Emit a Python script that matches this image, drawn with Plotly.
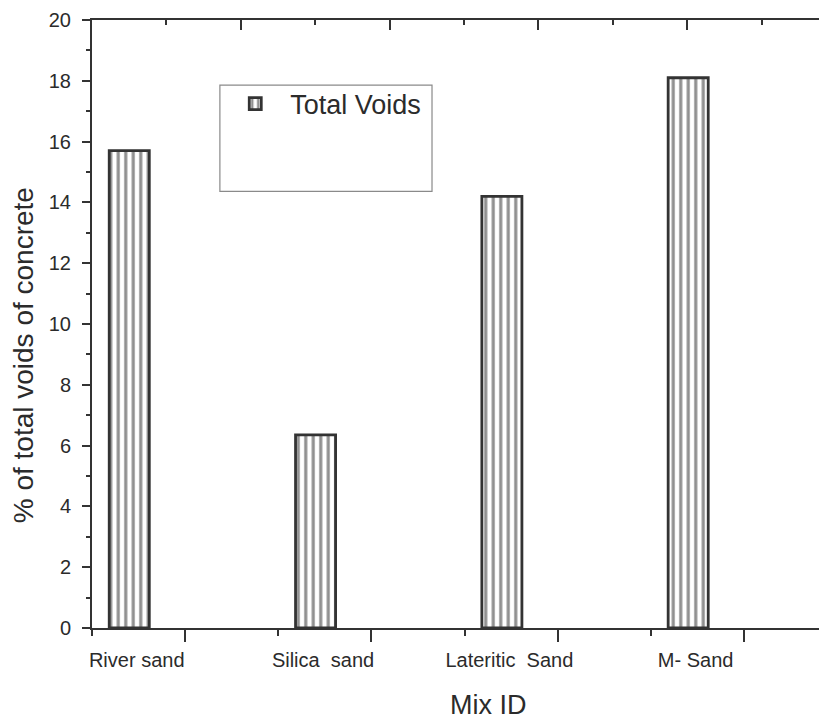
import plotly.graph_objects as go

# ---- data ----
categories = ["River sand", "Silica  sand", "Lateritic  Sand", "M- Sand"]
total_voids = [15.7, 6.35, 14.2, 18.1]
y_ticks = [0, 2, 4, 6, 8, 10, 12, 14, 16, 18, 20]

# ---- layout constants ----
FONT = "Liberation Sans, Arial, sans-serif"
INK = "#2b2b2b"
LINE = "#333333"
bar_offset = 0.7      # bar position relative to category index (axis units)
label_offset = 0.74
x_range = [0.5, 4.445]
top_range = [0, 9.88]

x_pos = [i + bar_offset for i in range(len(categories))]
label_pos = [i + label_offset for i in range(len(categories))]

fig = go.Figure()
fig.add_trace(go.Bar(
    x=x_pos, y=total_voids, name="Total Voids", width=0.215,
    marker=dict(color="white", line=dict(color=LINE, width=2.8),
                pattern=dict(shape="|", fgcolor="#222222", bgcolor="white",
                             size=7.5, solidity=0.42, fillmode="overlay")),
    xaxis="x", yaxis="y",
))
# empty helper traces so overlay axes are drawn
fig.add_trace(go.Scatter(x=[], y=[], xaxis="x2", yaxis="y", showlegend=False, hoverinfo="skip"))
fig.add_trace(go.Scatter(x=[], y=[], xaxis="x3", yaxis="y", showlegend=False, hoverinfo="skip"))

# page body has an 8px margin, so the figure is 8px smaller than the window
fig.update_layout(
    width=819, height=712,
    margin=dict(l=84, r=0, t=12, b=92, autoexpand=False),
    paper_bgcolor="white", plot_bgcolor="white",
    font=dict(family=FONT, color=INK),
    showlegend=True,
    legend=dict(x=0.1745, y=0.902, xanchor="left", yanchor="top",
                bgcolor="rgba(0,0,0,0)", borderwidth=0, itemwidth=60,
                font=dict(size=27, color=INK, family=FONT)),
    xaxis=dict(range=x_range, showgrid=False, zeroline=False, automargin=False,
               showline=True, linecolor=LINE, linewidth=2,
               tickvals=[1, 2, 3, 4], ticks="outside", ticklen=12, tickwidth=2,
               tickcolor=LINE, showticklabels=False,
               minor=dict(tickvals=[0.5, 1.5, 2.5, 3.5], ticks="outside",
                          ticklen=6, tickwidth=2, tickcolor=LINE)),
    xaxis2=dict(range=x_range, overlaying="x", side="bottom", anchor="y",
                showgrid=False, zeroline=False, showline=False, automargin=False,
                tickvals=label_pos, ticktext=categories, ticks="",
                ticklabeloverflow="allow",
                tickfont=dict(size=20, color=INK), ticklabelstandoff=18),
    xaxis3=dict(range=top_range, overlaying="x", side="top", anchor="y",
                showgrid=False, zeroline=False, showline=True, automargin=False,
                linecolor=LINE, linewidth=2, mirror=False,
                dtick=2, tick0=0, ticks="inside", ticklen=10, tickwidth=2,
                tickcolor=LINE, showticklabels=False,
                minor=dict(dtick=1, tick0=0, ticks="inside", ticklen=5,
                           tickwidth=2, tickcolor=LINE)),
    yaxis=dict(range=[0, 20], showgrid=False, zeroline=False, automargin=False,
               showline=True, linecolor=LINE, linewidth=2,
               tickvals=y_ticks, ticks="outside", ticklen=8, tickwidth=2,
               tickcolor=LINE, tickfont=dict(size=20, color=INK),
               ticklabelstandoff=7, ticklabeloverflow="allow",
               minor=dict(dtick=1, ticks="outside", ticklen=4, tickwidth=2,
                          tickcolor=LINE)),
    shapes=[dict(type="rect", xref="paper", yref="paper",
                 x0=0.174, x1=0.4626, y0=0.718, y1=0.893,
                 line=dict(color="#8a8a8a", width=1.2),
                 fillcolor="rgba(0,0,0,0)", layer="below")],
    annotations=[
        dict(text="Mix ID", xref="paper", yref="paper", x=0.539, y=-0.126,
             xanchor="center", yanchor="middle", showarrow=False,
             font=dict(size=27, color=INK, family=FONT)),
        dict(text="% of total voids of concrete", xref="paper", yref="paper",
             x=-0.093, y=0.448, xanchor="center", yanchor="middle",
             textangle=-90, showarrow=False,
             font=dict(size=28, color=INK, family=FONT)),
    ],
)

fig.write_html("out.html")
